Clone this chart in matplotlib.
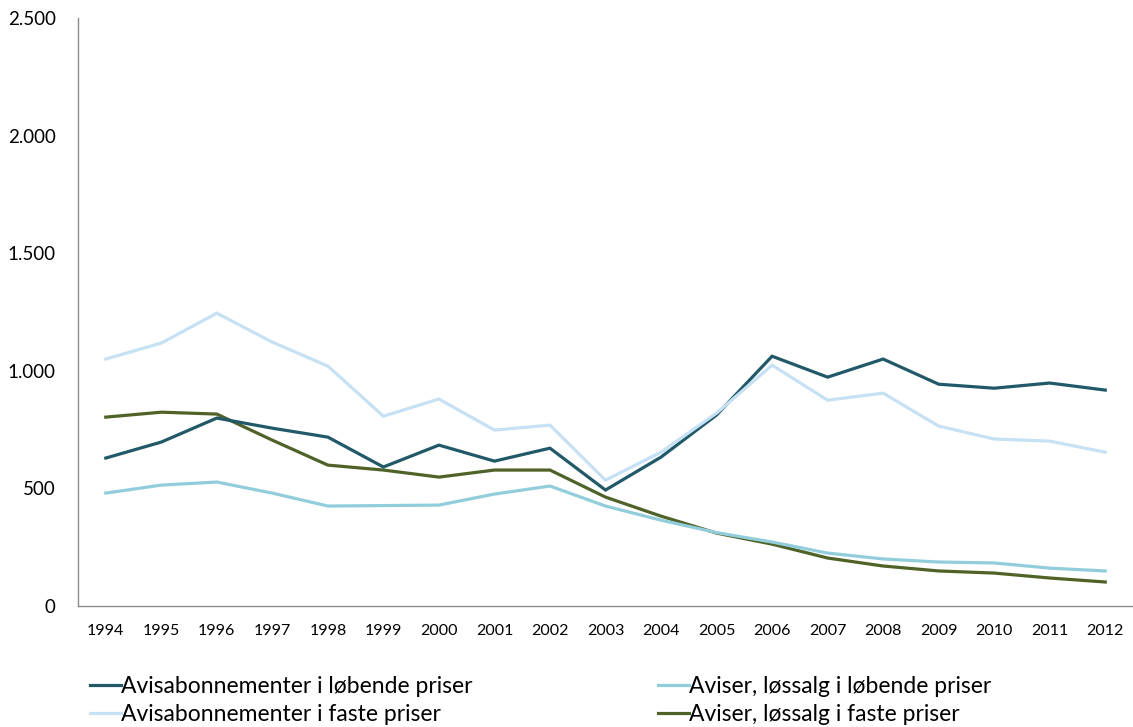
import matplotlib
matplotlib.use("Agg")
import matplotlib.pyplot as plt
from matplotlib.ticker import FuncFormatter

years = [str(y) for y in range(1994, 2013)]
abonnement_lopende = [629, 697, 799, 756, 718, 591, 684, 616, 671, 493, 633, 812, 1062, 973, 1050, 943, 926, 948, 918]
abonnement_faste = [1050, 1118, 1245, 1122, 1020, 807, 880, 748, 769, 535, 654, 820, 1024, 875, 905, 765, 710, 701, 654]
lossalg_lopende = [480, 514, 527, 480, 425, 427, 429, 476, 510, 425, 365, 312, 272, 225, 200, 187, 183, 161, 149]
lossalg_faste = [803, 824, 816, 705, 599, 578, 548, 578, 578, 463, 382, 310, 263, 204, 170, 149, 140, 119, 102]
labels = ["Avisabonnementer i løbende priser", "Avisabonnementer i faste priser",
          "Aviser, løssalg i løbende priser", "Aviser, løssalg i faste priser"]
colors = ["#215968", "#C6E0F4", "#92CDDC", "#4F6228"]
yticks = [0, 500, 1000, 1500, 2000, 2500]

plt.rcParams['font.family'] = ['Lato', 'DejaVu Sans']

fig = plt.figure(figsize=(11.33, 7.27), dpi=100)
ax = fig.add_axes([78/1133, 1 - 606/727, (1133 - 78)/1133, (606 - 18)/727])

x = list(range(len(years)))
series = [abonnement_lopende, abonnement_faste, lossalg_lopende, lossalg_faste]
order = [1, 3, 2, 0]  # drawing order (z)
handles = {}
for i in range(4):
    h, = ax.plot(x, series[i], color=colors[i], lw=2.3, solid_joinstyle='miter', zorder=2 + order[i], label=labels[i])
    handles[i] = h

ax.set_xlim(-0.5, len(years) - 0.5)
ax.set_ylim(0, 2500)
ax.set_yticks(yticks)
ax.yaxis.set_major_formatter(FuncFormatter(lambda v, p: f"{int(v):,}".replace(",", ".")))
ax.set_xticks(x)
ax.set_xticklabels(years)
ax.tick_params(axis='y', length=0, pad=16, labelsize=13.5)
ax.tick_params(axis='x', length=0, pad=13, labelsize=11.5)
for s in ['top', 'right']:
    ax.spines[s].set_visible(False)
for s in ['left', 'bottom']:
    ax.spines[s].set_color('#8C8C8C')
    ax.spines[s].set_linewidth(1.0)

leg = fig.legend([handles[0], handles[1], handles[2], handles[3]], labels, ncol=2,
                 loc='upper left', bbox_to_anchor=(90/1133, 1 - 676/727), frameon=False,
                 fontsize=16.5, handlelength=1.35, handletextpad=0.0, columnspacing=8.1,
                 labelspacing=0.3, borderaxespad=0, borderpad=0)

fig.savefig("out.png", dpi=100)
